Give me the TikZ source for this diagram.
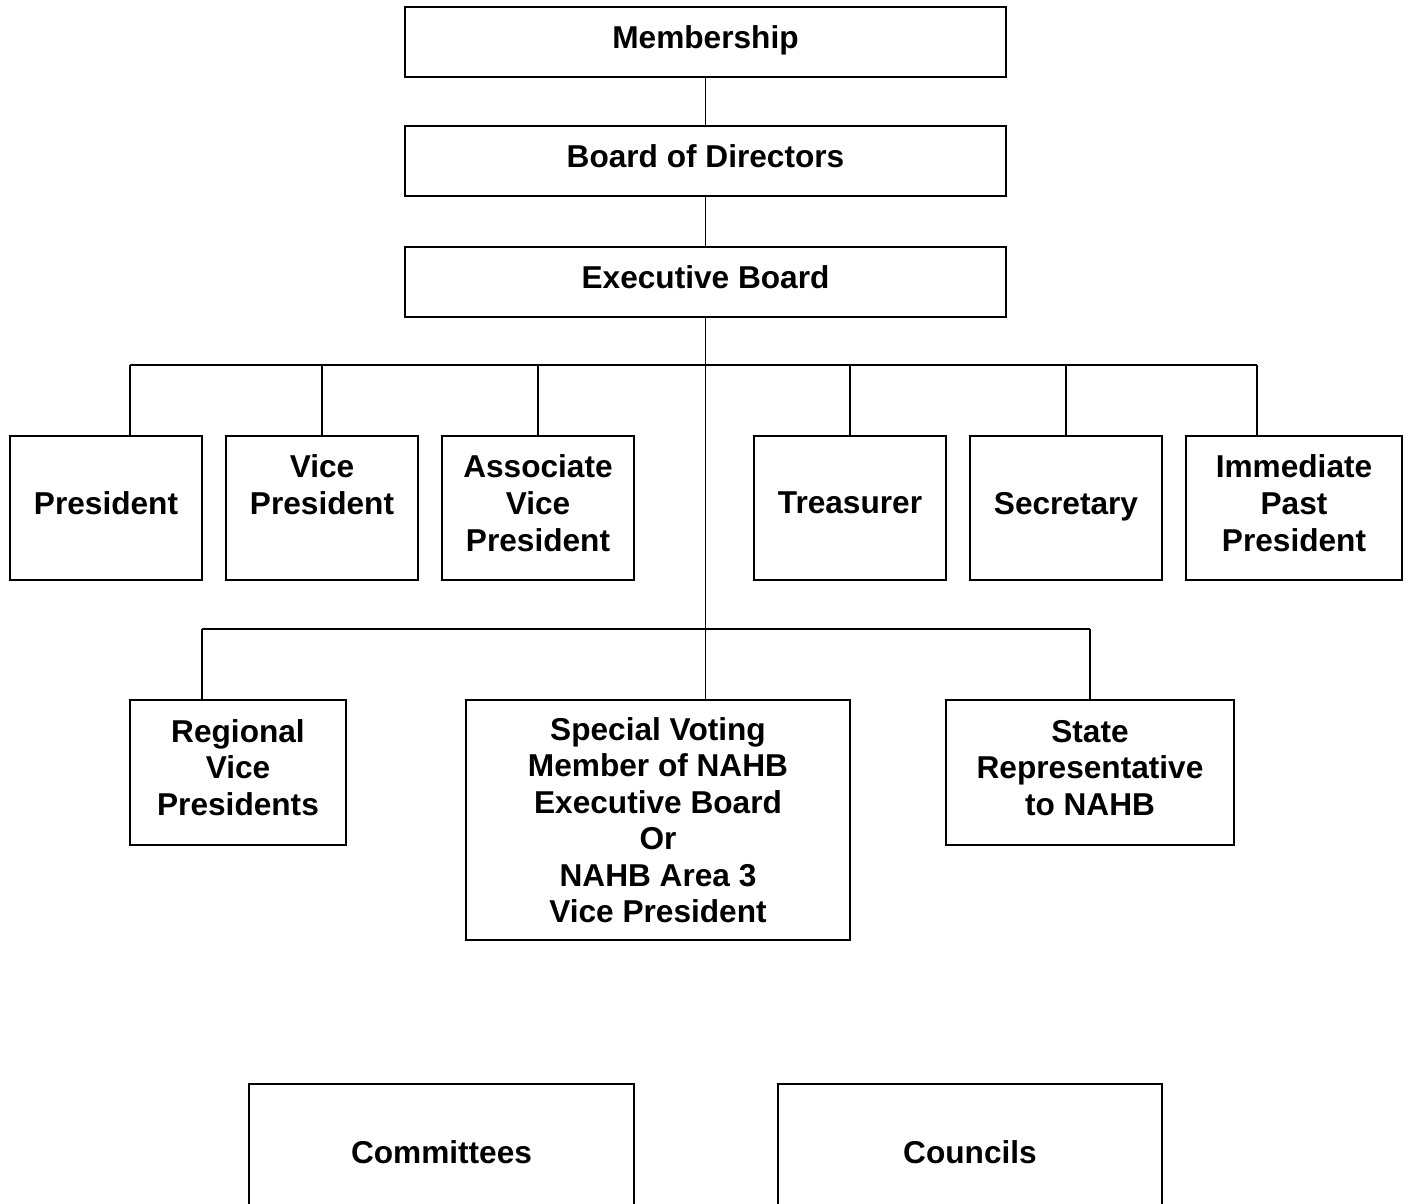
\documentclass[tikz,border=0pt]{standalone}
\usepackage{fontspec}
\setmainfont{Liberation Sans}
\tikzset{
	orgbox/.style={draw, rectangle, inner sep=0pt, align=center, text depth=0.2cm,
		font=\bfseries\fontsize{18}{20.8}\selectfont},
	offbox/.style={orgbox, minimum width=3.84cm, minimum height=2.88cm}
}

\begin{document}
\begin{tikzpicture}[
		-,
		x=0.02cm, y=-0.02cm,
		line width=1.1pt
	]
		\useasboundingbox (0,0) rectangle (1408,1203);
		\clip (0,0) rectangle (1408,1203);

		% top of the chart
		\node[orgbox, minimum width=12.02cm, minimum height=1.4cm] (mem) at (705.5,42) {Membership};
		\node[orgbox, minimum width=12.02cm, minimum height=1.4cm] (board) at (705.5,161) {Board of Directors};
		\node[orgbox, minimum width=12.02cm, minimum height=1.4cm] (exec) at (705.5,282) {Executive Board};

		% officers
		\node[offbox] (pres) at (106,508) {President};
		\node[offbox] (vp) at (322,508) {Vice\\President\\\mbox{}};
		\node[offbox] (avp) at (538,508) {Associate\\Vice\\President};
		\node[offbox] (treas) at (850,508) {Treasurer};
		\node[offbox] (sec) at (1066,508) {Secretary};
		\node[offbox, minimum width=4.32cm] (ipp) at (1294,508) {Immediate\\Past\\President};

		% second row
		\node[orgbox, minimum width=4.32cm, minimum height=2.9cm] (rvp) at (238,772.5) {Regional\\Vice\\Presidents};
		\node[orgbox, text depth=0pt, minimum width=7.68cm, minimum height=4.8cm] (spv) at (658,820) {Special Voting\\Member of NAHB\\Executive Board\\Or\\NAHB Area 3\\Vice President};
		\node[orgbox, minimum width=5.76cm, minimum height=2.9cm] (srep) at (1090,772.5) {State\\Representative\\to NAHB};

		% committees and councils
		\node[orgbox, text depth=0pt, minimum width=7.7cm, minimum height=2.72cm] (comm) at (441.5,1152) {Committees};
		\node[orgbox, text depth=0pt, minimum width=7.68cm, minimum height=2.72cm] (coun) at (970,1152) {Councils};

		\coordinate (b1) at (130,365);
		\coordinate (b2) at (322,365);
		\coordinate (b3) at (538,365);
		\coordinate (b4) at (850,365);
		\coordinate (b5) at (1066,365);
		\coordinate (b6) at (1257,365);
		\coordinate (r1) at (202,629);
		\coordinate (r3) at (1090,629);

		\draw (mem) -- (board);
		\draw (board) -- (exec);
		\draw (exec.south) -- (exec.south |- spv.north);
		\draw (b1) -- (b6);
		\foreach \c/\n in {b1/pres, b2/vp, b3/avp, b4/treas, b5/sec, b6/ipp}
			\draw (\c) -- (\c |- \n.north);
		\draw (r1) -- (r3);
		\draw (r1) -- (r1 |- rvp.north);
		\draw (r3) -- (srep);
	\end{tikzpicture}
\end{document}
